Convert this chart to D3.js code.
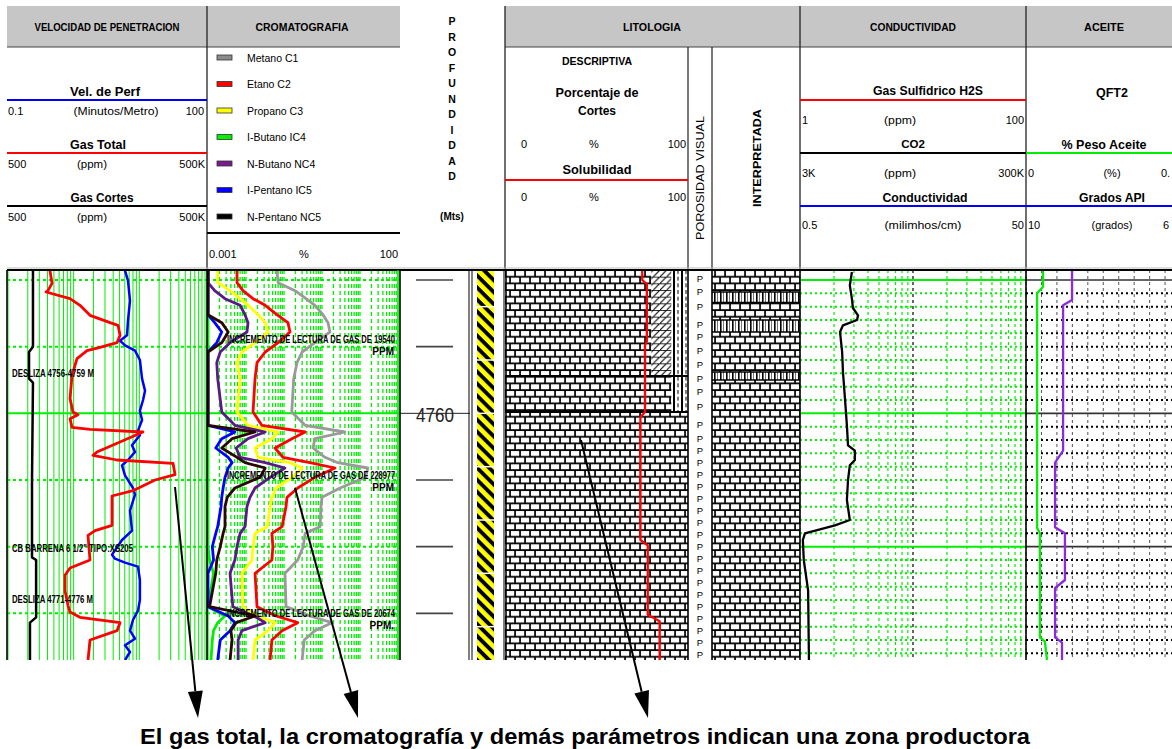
<!DOCTYPE html>
<html><head><meta charset="utf-8">
<script src="https://cdn.jsdelivr.net/npm/d3@7"></script>
<style>body{margin:0;background:#fff;overflow:hidden}</style>
</head><body>
<script>
// ---------------- DATA ----------------
const depthTop = 4749.25, depthBot = 4778.5;
const depthTicks = [4750, 4755, 4760, 4765, 4770, 4775];
const depthLabels = [4760];
const meterLines = d3.range(4750, 4779);          // 1 m grid
const heavyMeters = [4750, 4760, 4770];

// Track 1
const velDepth = [4749.3,4750.05,4751.55,4753.05,4754.15,4754.55,4754.9,4755.3,4756.0,4757.4,4758.3,4759.0,4759.8,4760.5,4761.3,4761.65,4762.4,4762.9,4763.5,4763.9,4764.65,4765.6,4766.1,4767.3,4768.8,4769.5,4770.6,4770.9,4771.2,4771.5,4772.5,4774.0,4774.8,4775.5,4776.3,4776.9,4777.4,4777.9,4778.5];
const velMinM = [6.05,6.72,7.21,6.72,6.49,5.07,6.05,8.59,10.2,11.0,12.2,11.4,10.2,11.0,9.54,10.2,7.73,8.59,6.72,5.45,6.05,8.0,8.59,7.21,7.73,5.45,3.84,4.26,6.05,9.54,10.2,10.2,9.54,8.0,7.21,8.59,6.05,7.21,6.05];
const gasTotalDepth = [4749.3,4750.25,4750.8,4750.9,4751.4,4751.9,4752.65,4753.2,4753.4,4754.15,4754.7,4755.05,4755.3,4755.9,4757.15,4758.9,4759.9,4760.1,4760.4,4761.05,4761.2,4761.4,4762.9,4763.15,4763.5,4763.75,4764.6,4765.0,4765.8,4766.2,4768.4,4768.8,4769.15,4771.0,4771.6,4772.15,4773.3,4774.4,4774.9,4775.3,4775.7,4776.3,4777.0,4778.5];
const gasTotalPpm = [2180,2340,2030,1900,4400,6240,8870,17900,23700,25400,22900,12600,8000,5620,4720,4400,4880,5820,4400,4720,8870,56900,11300,9840,22900,163000,175000,86600,40000,19200,19200,10600,8270,8870,4400,3690,3690,4100,4400,6240,25400,22900,8870,8270];
const cutDepth = [4749.3,4755.0,4755.4,4757.4,4757.7,4765.0,4770.8,4771.0,4775.3,4775.7,4778.5];
const cutPpm = [1200,1200,1045,1045,1200,1160,1160,1340,1340,1080,1080];
const t1Notes = ["DESLIZA 4756-4759 M", "CB BARRENA 6 1/2\" TIPO:XS205", "DESLIZA 4771-4776 M"];
const t1NoteDepth = [4757.3, 4770.4, 4774.2];

// Chromatography (%)
const chromNames = ["Metano C1","Etano C2","Propano C3","I-Butano IC4","N-Butano NC4","I-Pentano IC5","N-Pentano NC5"];
const chromColors = ["#8c8c8c","#ff0000","#ffff00","#00ee00","#7a1a8c","#0000ff","#000000"];
const chromDepth = [4749.3,4750.2,4750.8,4751.4,4751.9,4752.6,4753.2,4753.9,4754.7,4755.4,4756.2,4757.4,4759.9,4760.9,4761.4,4761.9,4762.6,4763.3,4763.7,4764.1,4764.8,4765.6,4766.3,4767.0,4768.5,4769.0,4770.0,4771.0,4772.0,4774.5,4775.2,4775.7,4776.3,4777.0,4778.5];
const c1 = [0.065,0.07,0.195,0.38,0.65,1.06,1.44,1.62,0.65,0.30,0.22,0.18,0.16,0.36,4.0,0.65,0.58,1.2,2.6,16,14,3.0,1.0,0.94,0.89,0.36,0.32,0.23,0.106,0.113,0.48,1.83,0.65,0.34,0.30];
const c2 = [0.0058,0.0058,0.0083,0.0153,0.032,0.065,0.127,0.144,0.07,0.032,0.0195,0.0173,0.0153,0.026,0.36,0.162,0.058,0.094,0.48,2.2,0.65,0.23,0.12,0.113,0.089,0.048,0.051,0.048,0.0173,0.0195,0.062,0.23,0.089,0.048,0.043];
const c3 = [0.0018,0.0018,0.0038,0.007,0.0113,0.0207,0.032,0.038,0.0173,0.0078,0.0058,0.007,0.0058,0.0113,0.07,0.048,0.0173,0.0207,0.144,0.30,0.162,0.062,0.048,0.043,0.036,0.0173,0.0153,0.0144,0.0078,0.0083,0.0195,0.058,0.038,0.0173,0.0153];
const ic4 = [0.001,0.001,0.001,0.001,0.001,0.001,0.001,0.001,0.001,0.001,0.001,0.001,0.001,0.001,0.001,0.001,0.001,0.001,0.001,0.001,0.001,0.001,0.001,0.001,0.001,0.001,0.001,0.0011,0.0014,0.001,0.0028,0.0018,0.0014,0.0013,0.0012];
const nc4 = [0.001,0.001,0.0015,0.0028,0.007,0.0094,0.0113,0.0106,0.0038,0.0021,0.0017,0.0018,0.0023,0.0051,0.032,0.0113,0.0055,0.007,0.032,0.106,0.043,0.0173,0.0127,0.0106,0.0094,0.007,0.0058,0.0051,0.0038,0.0045,0.0162,0.032,0.0078,0.0062,0.0062];
const ic5 = [0.001,0.001,0.001,0.001,0.001,0.001,0.0015,0.0023,0.0017,0.001,0.001,0.001,0.001,0.001,0.0051,0.0023,0.0016,0.0034,0.0043,0.0034,0.0028,0.0025,0.0023,0.0022,0.0018,0.0016,0.0013,0.0014,0.001,0.001,0.0034,0.0051,0.0038,0.0021,0.0018];
const nc5 = [0.001,0.001,0.001,0.001,0.001,0.001,0.0023,0.0034,0.0023,0.001,0.001,0.001,0.001,0.001,0.0173,0.0043,0.0023,0.0058,0.0094,0.032,0.0234,0.0051,0.0032,0.0028,0.0028,0.0025,0.0021,0.0017,0.0016,0.0011,0.0173,0.0055,0.004,0.0043,0.0038];
const gasNotes = ["INCREMENTO DE LECTURA DE GAS DE 19540","INCREMENTO DE LECTURA DE GAS DE 228977","INCREMENTO DE LECTURA DE GAS DE 20674"];
const gasNoteUnits = ["PPM","PPM","PPM."];
const gasNoteDepth = [4754.7, 4764.9, 4775.3];

// Lithology (descriptive, % of cuttings)
const lithTop = [4749.25, 4757.2, 4759.9];
const lithBase = [4757.2, 4759.9, 4778.5];
const calizaPct = [80, 91, 100];
const dolomiaPct = [11, 0, 0];
const lutitaPct = [9, 9, 0];
const solDepth = [4749.3,4750.0,4750.3,4754.6,4754.9,4759.9,4760.3,4769.5,4769.9,4775.1,4775.6,4778.5];
const solPct = [75,75,77.5,77.5,76.5,76.5,74,74,78,78,84.5,84.5];
const porDepth = [4749.9,4750.9,4752.0,4753.4,4754.3,4755.3,4756.4,4757.4,4758.4,4759.5,4760.9,4761.9,4762.8,4763.7,4764.6,4765.5,4766.4,4767.3,4768.2,4769.1,4770.0,4770.9,4771.8,4772.7,4773.6,4774.5,4775.4,4776.3,4777.2,4778.1];
const interpTop = [4749.25,4750.9,4751.7,4753.0,4753.9,4756.9,4757.5];
const interpBase = [4750.9,4751.7,4753.0,4753.9,4756.9,4757.5,4778.5];
const interpType = ["caliza","marga","caliza","marga","caliza","marga","caliza"];
const stripeBreaks = [4752,4756,4760,4764,4768,4772,4776];

// Conductivity
const condDepth = [4749.4,4750.4,4751.4,4752.1,4752.65,4753.0,4753.4,4753.9,4755.4,4756.9,4758.9,4760.9,4762.4,4762.8,4763.5,4763.9,4765.0,4766.5,4768.0,4768.4,4769.0,4769.5,4771.0,4773.3,4778.5];
const condVal = [1.44,1.38,1.44,1.47,1.63,1.6,1.2,1.13,1.18,1.2,1.25,1.3,1.33,1.53,1.53,1.38,1.33,1.3,1.38,1.02,0.553,0.53,0.54,0.59,0.6];

// Oil
const apiDepth = [4749.3,4751.5,4751.9,4762.8,4763.7,4768.55,4769.0,4772.5,4773.1,4776.8,4777.2,4778.5];
const apiVal = [24.9,24.9,22.0,22.0,19.4,19.4,22.6,22.6,19.4,19.4,21.65,21.65];
const pctDepth = [4749.3,4750.5,4751.0,4768.6,4769.0,4776.8,4777.1,4778.5];
const pctVal = [0.055,0.055,0.036,0.036,0.045,0.045,0.061,0.068];

const caption = "El gas total, la cromatografía y demás parámetros  indican una zona productora";

// ---------------- DRAW ----------------
const SANS = "'Liberation Sans', Arial, Helvetica, sans-serif";
const NARROW = "'Liberation Sans Narrow', 'Arial Narrow', 'Liberation Sans', Arial, sans-serif";
const W = 1172, H = 749, Y0 = 270, Y1 = 660;
const svg = d3.select("body").append("svg").attr("width", W).attr("height", H);
const defs = svg.append("defs");
const y = d3.scaleLinear().domain([depthTop, depthBot]).range([Y0, Y1]);

function txt(x, yy, s, o = {}) {
  const t = svg.append("text").attr("x", x).attr("y", yy).text(s)
    .attr("font-size", o.size || 11).attr("font-weight", o.bold ? "bold" : "normal")
    .attr("text-anchor", o.anchor || "start").attr("fill", o.fill || "#000")
    .attr("font-family", o.family || SANS);
  if (o.len) t.attr("textLength", o.len).attr("lengthAdjust", "spacingAndGlyphs");
  if (o.rotate) t.attr("transform", `rotate(${o.rotate},${x},${yy})`);
  return t;
}
function line(x1, y1, x2, y2, c, w, dash) {
  const l = svg.append("line").attr("x1", x1).attr("y1", y1).attr("x2", x2).attr("y2", y2)
    .attr("stroke", c).attr("stroke-width", w);
  if (dash) l.attr("stroke-dasharray", dash);
  return l;
}
function clip(id, x0, x1) {
  defs.append("clipPath").attr("id", id).append("rect").attr("x", x0).attr("y", Y0).attr("width", x1 - x0).attr("height", Y1 - Y0);
  return svg.append("g").attr("clip-path", `url(#${id})`);
}

// patterns
const pb = defs.append("pattern").attr("id", "brick").attr("patternUnits", "userSpaceOnUse")
  .attr("x", 505).attr("y", Y0).attr("width", 10).attr("height", 13.333);
pb.append("rect").attr("width", 10).attr("height", 13.333).attr("fill", "#000");
[[0.9, 1.0], [-4.1, 7.67], [5.9, 7.67]].forEach(([a, b]) => pb.append("rect").attr("x", a).attr("y", b).attr("width", 8.3).attr("height", 4.9).attr("fill", "#fff"));
const pd = defs.append("pattern").attr("id", "dolo").attr("patternUnits", "userSpaceOnUse")
  .attr("x", 0).attr("y", Y0).attr("width", 6.667).attr("height", 6.667);
pd.append("rect").attr("width", 6.667).attr("height", 6.667).attr("fill", "#fff");
pd.append("line").attr("x1", 0).attr("y1", 6.667).attr("x2", 6.667).attr("y2", 0).attr("stroke", "#000").attr("stroke-width", 1.1);
pd.append("line").attr("x1", 0).attr("y1", 0.5).attr("x2", 6.667).attr("y2", 0.5).attr("stroke", "#000").attr("stroke-width", 0.8);
const pl = defs.append("pattern").attr("id", "lut").attr("patternUnits", "userSpaceOnUse")
  .attr("x", 672).attr("y", Y0).attr("width", 8).attr("height", 6.667);
pl.append("rect").attr("width", 8).attr("height", 6.667).attr("fill", "#fff");
pl.append("rect").attr("x", 1).attr("width", 2).attr("height", 6.667).attr("fill", "#000");
pl.append("rect").attr("x", 5.5).attr("width", 1).attr("height", 4).attr("fill", "#000");
const pm = defs.append("pattern").attr("id", "marga").attr("patternUnits", "userSpaceOnUse")
  .attr("x", 713).attr("y", Y0).attr("width", 6).attr("height", 13.333);
pm.append("rect").attr("width", 6).attr("height", 13.333).attr("fill", "#fff");
pm.append("rect").attr("x", 1).attr("width", 1.6).attr("height", 13.333).attr("fill", "#000");
pm.append("rect").attr("x", 4).attr("width", 0.8).attr("height", 13.333).attr("fill", "#555");
const ps = defs.append("pattern").attr("id", "stripe").attr("patternUnits", "userSpaceOnUse")
  .attr("width", 8.5).attr("height", 8.5).attr("patternTransform", "rotate(-45)");
ps.append("rect").attr("width", 8.5).attr("height", 8.5).attr("fill", "#000");
ps.append("rect").attr("width", 4.6).attr("height", 8.5).attr("fill", "#ffff00");

// ---------- HEADER ----------
svg.append("rect").attr("x", 7).attr("y", 6).attr("width", 393).attr("height", 41).attr("fill", "#c6c6c6");
svg.append("rect").attr("x", 505).attr("y", 6).attr("width", 667).attr("height", 41).attr("fill", "#c6c6c6");
line(7, 47, 400, 47, "#444", 1.2); line(505, 47, 1172, 47, "#444", 1.2);
[207, 505, 800, 1026].forEach(x => line(x, 6, x, 270, "#222", 1.3));
[688, 712].forEach(x => line(x, 47, x, 270, "#222", 1.2));
line(7, 268, 1172, 268, "#bbb", 1);

const titleOpt = { size: 10.5, bold: true, anchor: "middle", family: NARROW };
txt(107, 31, "VELOCIDAD DE PENETRACION", { ...titleOpt, len: 145 });
txt(302, 31, "CROMATOGRAFIA", { ...titleOpt, len: 93 });
txt(652, 31, "LITOLOGIA", { ...titleOpt, len: 58 });
txt(913, 31, "CONDUCTIVIDAD", { ...titleOpt, len: 86 });
txt(1104, 31, "ACEITE", { ...titleOpt, len: 40 });

// Track 1 header
const lab = { size: 12.5, bold: true, anchor: "middle", family: NARROW };
txt(105, 96, "Vel. de Perf", { ...lab, len: 70 });
line(7, 100, 207, 100, "#0000ff", 2);
txt(8, 115, "0.1"); txt(116, 115, "(Minutos/Metro)", { anchor: "middle", len: 85 }); txt(204, 115, "100", { anchor: "end" });
txt(98, 149, "Gas Total", { ...lab, len: 56 });
line(7, 153, 207, 153, "#ff0000", 2);
txt(8, 168, "500"); txt(92, 168, "(ppm)", { anchor: "middle", len: 30 }); txt(205, 168, "500K", { anchor: "end" });
txt(102, 202, "Gas Cortes", { ...lab, len: 63 });
line(7, 206, 207, 206, "#000", 2);
txt(8, 221, "500"); txt(92, 221, "(ppm)", { anchor: "middle", len: 30 }); txt(205, 221, "500K", { anchor: "end" });

// Chromatography legend
chromNames.forEach((n, i) => {
  const cy = 57.5 + i * 26.5;
  svg.append("rect").attr("x", 217).attr("y", cy - 2.5).attr("width", 15).attr("height", 5)
    .attr("fill", chromColors[i]).attr("stroke", "#333").attr("stroke-width", 0.8);
  txt(247, cy + 4, n, { size: 10.5 });
});
line(207, 233, 400, 233, "#000", 2);
txt(209, 258, "0.001"); txt(304, 258, "%", { anchor: "middle" }); txt(398, 258, "100", { anchor: "end" });

// Profundidad
"PROFUNDIDAD".split("").forEach((c, i) => txt(452, 25 + i * 15.5, c, { size: 10.5, bold: true, anchor: "middle", family: NARROW }));
txt(452, 220, "(Mts)", { size: 10, bold: true, anchor: "middle", family: NARROW });

// Litologia header
txt(597, 65, "DESCRIPTIVA", { size: 10.5, bold: true, anchor: "middle", family: NARROW, len: 70 });
txt(597, 97, "Porcentaje de", { ...lab, len: 83 });
txt(597, 115, "Cortes", { ...lab, len: 38 });
txt(521, 148, "0"); txt(594, 148, "%", { anchor: "middle" }); txt(686, 148, "100", { anchor: "end" });
txt(597, 174, "Solubilidad", { ...lab, len: 69 });
line(505, 180, 688, 180, "#ff0000", 2);
txt(521, 201, "0"); txt(594, 201, "%", { anchor: "middle" }); txt(686, 201, "100", { anchor: "end" });
txt(704, 178, "POROSIDAD VISUAL", { size: 11.5, anchor: "middle", rotate: -90, len: 124 });
txt(761, 158, "INTERPRETADA", { size: 11, bold: true, anchor: "middle", rotate: -90, len: 98 });

// Conductividad header
txt(928, 95, "Gas Sulfidrico H2S", { ...lab, len: 110 });
line(800, 100, 1026, 100, "#ff0000", 2);
txt(802, 124, "1"); txt(900, 124, "(ppm)", { anchor: "middle", len: 32 }); txt(1024, 124, "100", { anchor: "end" });
txt(913, 148, "CO2", { size: 11.5, bold: true, anchor: "middle", family: NARROW });
line(800, 153, 1026, 153, "#000", 2);
txt(802, 177, "3K"); txt(900, 177, "(ppm)", { anchor: "middle", len: 32 }); txt(1024, 177, "300K", { anchor: "end" });
txt(925, 202, "Conductividad", { ...lab, len: 85 });
line(800, 206, 1026, 206, "#0000ff", 2);
txt(802, 229, "0.5"); txt(923, 229, "(milimhos/cm)", { anchor: "middle", len: 77 }); txt(1024, 229, "50", { anchor: "end" });

// Aceite header (track continues past the picture's right edge: only the visible part of the end labels)
txt(1112, 97, "QFT2", { ...lab });
txt(1104, 149, "% Peso Aceite", { ...lab, len: 85 });
line(1026, 153, 1172, 153, "#00ee00", 2);
txt(1028, 177, "0"); txt(1112, 177, "(%)", { anchor: "middle" }); txt(1161, 177, "0.");
txt(1112, 202, "Grados API", { ...lab, len: 66 });
line(1026, 206, 1172, 206, "#0000ff", 2);
txt(1028, 229, "10"); txt(1112, 229, "(grados)", { anchor: "middle" }); txt(1163, 229, "6");

// ---------- TRACK 1 ----------
const xVel = d3.scaleLog().domain([0.1, 100]).range([8, 205]);
const xGas = d3.scaleLog().domain([500, 500000]).range([8, 205]);
const g1 = clip("c1", 7, 207);
xVel.ticks().forEach(v => g1.append("line").attr("x1", xVel(v)).attr("x2", xVel(v)).attr("y1", Y0).attr("y2", Y1).attr("stroke", "#00ee00").attr("stroke-width", 1));
depthTicks.forEach(d => g1.append("line").attr("x1", 7).attr("x2", 207).attr("y1", y(d)).attr("y2", y(d))
  .attr("stroke", "#00ee00").attr("stroke-width", 2).attr("stroke-dasharray", depthLabels.includes(d) ? null : "3,3"));
const path1 = (g, D, V, xs, c, w) => g.append("path").datum(D.map((d, i) => [V[i], d]))
  .attr("d", d3.line().x(p => xs(p[0])).y(p => y(p[1]))).attr("fill", "none").attr("stroke", c).attr("stroke-width", w).attr("stroke-linejoin", "round");
path1(g1, cutDepth, cutPpm, xGas, "#000", 2.5);
path1(g1, velDepth, velMinM, xVel, "#0000ff", 2.5);
path1(g1, gasTotalDepth, gasTotalPpm, xGas, "#ff0000", 2.8);
const t1Len = [82, 121, 81];
t1Notes.forEach((n, i) => txt(12, y(t1NoteDepth[i]), n, { size: 10.5, bold: true, family: NARROW, len: t1Len[i] }));

// ---------- TRACK 2 CHROMATOGRAPHY ----------
const xCh = d3.scaleLog().domain([0.001, 100]).range([208, 398]);
const g2 = clip("c2", 207, 400);
xCh.ticks().forEach(v => g2.append("line").attr("x1", xCh(v)).attr("x2", xCh(v)).attr("y1", Y0).attr("y2", Y1)
  .attr("stroke", "#00ee00").attr("stroke-width", 1.3).attr("stroke-dasharray", (v === 0.001 || v === 100) ? null : "4,3"));
depthTicks.forEach(d => g2.append("line").attr("x1", 207).attr("x2", 400).attr("y1", y(d)).attr("y2", y(d))
  .attr("stroke", "#00ee00").attr("stroke-width", 2).attr("stroke-dasharray", depthLabels.includes(d) ? null : "3,3"));
const chromSeries = [c1, c2, c3, ic4, ic5, nc4, nc5];
const chromCurveColors = ["#9a9a9a", "#ff0000", "#ffff00", "#00ee00", "#0000ff", "#5a1a86", "#2a0606"];
chromSeries.forEach((s, i) => path1(g2, chromDepth, s, xCh, chromCurveColors[i], 2.8));
gasNotes.forEach((n, i) => {
  const yy = y(gasNoteDepth[i]);
  txt(395, yy, n, { size: 10.5, bold: true, family: NARROW, anchor: "end", len: 168 });
  txt(394, yy + 12, gasNoteUnits[i], { size: 10, bold: true, family: NARROW, anchor: "end" });
});

// ---------- DEPTH COLUMN ----------
depthTicks.forEach(d => {
  if (depthLabels.includes(d)) {
    line(400, y(d), 470, y(d), "#222", 1);
    txt(435, y(d) + 9, String(d), { size: 21, anchor: "middle", family: NARROW, fill: "#222", len: 38 });
  } else line(416, y(d), 453, y(d), "#444", 1.6);
});
svg.append("rect").attr("x", 477).attr("y", Y0).attr("width", 17).attr("height", Y1 - Y0).attr("fill", "url(#stripe)");
stripeBreaks.forEach(d => line(477, y(d), 494, y(d), "#fff", 1.5));

// ---------- LITHOLOGY ----------
const xPct = d3.scaleLinear().domain([0, 100]).range([505, 688]);
const g3 = clip("c3", 505, 688);
lithTop.forEach((t, i) => {
  const y0 = y(t), h = y(lithBase[i]) - y(t);
  let x0 = 0;
  [[calizaPct[i], "url(#brick)"], [dolomiaPct[i], "url(#dolo)"], [lutitaPct[i], "url(#lut)"]].forEach(([p, f]) => {
    if (p > 0) g3.append("rect").attr("x", xPct(x0)).attr("y", y0).attr("width", xPct(x0 + p) - xPct(x0)).attr("height", h).attr("fill", f);
    x0 += p;
  });
  if (i > 0) g3.append("line").attr("x1", 505).attr("x2", 688).attr("y1", y0).attr("y2", y0).attr("stroke", "#000").attr("stroke-width", 2);
});
path1(g3, solDepth, solPct, xPct, "#ff0000", 2.3);
porDepth.forEach(d => txt(700, y(d) + 3, "P", { size: 9.5, anchor: "middle" }));
const g4 = clip("c4", 712, 800);
interpTop.forEach((t, i) => {
  g4.append("rect").attr("x", 712).attr("y", y(t)).attr("width", 88).attr("height", y(interpBase[i]) - y(t))
    .attr("fill", interpType[i] === "caliza" ? "url(#brick)" : "url(#marga)");
  if (i > 0) g4.append("line").attr("x1", 712).attr("x2", 800).attr("y1", y(t)).attr("y2", y(t)).attr("stroke", "#000").attr("stroke-width", 1.6);
});

// ---------- CONDUCTIVITY ----------
const xH2S = d3.scaleLog().domain([1, 100]).range([800, 1026]);
const xCond = d3.scaleLog().domain([0.5, 50]).range([800, 1026]);
const g5 = clip("c5", 800, 1026);
xH2S.ticks().forEach(v => g5.append("line").attr("x1", xH2S(v)).attr("x2", xH2S(v)).attr("y1", Y0).attr("y2", Y1)
  .attr("stroke", v === 10 ? "#000" : "#00ee00").attr("stroke-width", 1.2).attr("stroke-dasharray", "3,3"));
meterLines.forEach(d => g5.append("line").attr("x1", 800).attr("x2", 1026).attr("y1", y(d)).attr("y2", y(d))
  .attr("stroke", "#00ee00").attr("stroke-width", 2).attr("stroke-dasharray", heavyMeters.includes(d) ? null : "2,3"));
path1(g5, condDepth, condVal, xCond, "#000", 2.3);

// ---------- OIL ----------
const xApi = d3.scaleLinear().domain([10, 65]).range([1026, 1196]);
const xOil = d3.scaleLinear().domain([0, 0.55]).range([1026, 1196]);
const g6 = clip("c6", 1026, 1172);
xApi.ticks(11).forEach(v => g6.append("line").attr("x1", xApi(v)).attr("x2", xApi(v)).attr("y1", Y0).attr("y2", Y1)
  .attr("stroke", "#555").attr("stroke-width", 1).attr("stroke-dasharray", "3,3"));
meterLines.forEach(d => g6.append("line").attr("x1", 1026).attr("x2", 1172).attr("y1", y(d)).attr("y2", y(d))
  .attr("stroke", heavyMeters.includes(d) ? "#333" : "#000").attr("stroke-width", heavyMeters.includes(d) ? 1.6 : 2).attr("stroke-dasharray", heavyMeters.includes(d) ? null : "2,3"));
path1(g6, pctDepth, pctVal, xOil, "#00ee00", 2.3);
path1(g6, apiDepth, apiVal, xApi, "#8a2be2", 2.3);

// ---------- BORDERS ----------
line(7, Y0, 1172, Y0, "#000", 2);
[7, 207, 400, 469, 472, 504, 506, 688, 712, 800, 1026].forEach(x => line(x, Y0, x, Y1, "#000", x === 469 || x === 472 || x === 504 ? 1 : 1.6));
line(398, Y0, 398, Y1, "#00ee00", 1.2);

// ---------- ARROWS & CAPTION ----------
const arrows = [[175, 487, 198, 718], [295, 488, 358, 718], [581, 440, 648, 718]];
arrows.forEach(([x1, y1, x2, y2]) => {
  const a = Math.atan2(y2 - y1, x2 - x1), L = 27, hw = 7.5;
  const bx = x2 - L * Math.cos(a), by = y2 - L * Math.sin(a);
  line(x1, y1, bx, by, "#000", 2);
  svg.append("polygon").attr("points", [[x2, y2], [bx + hw * Math.sin(a), by - hw * Math.cos(a)], [bx - hw * Math.sin(a), by + hw * Math.cos(a)]].map(p => p.join(",")).join(" ")).attr("fill", "#000");
});
txt(585, 744, caption, { size: 22, bold: true, anchor: "middle", family: NARROW, len: 890 });
</script>
</body></html>
